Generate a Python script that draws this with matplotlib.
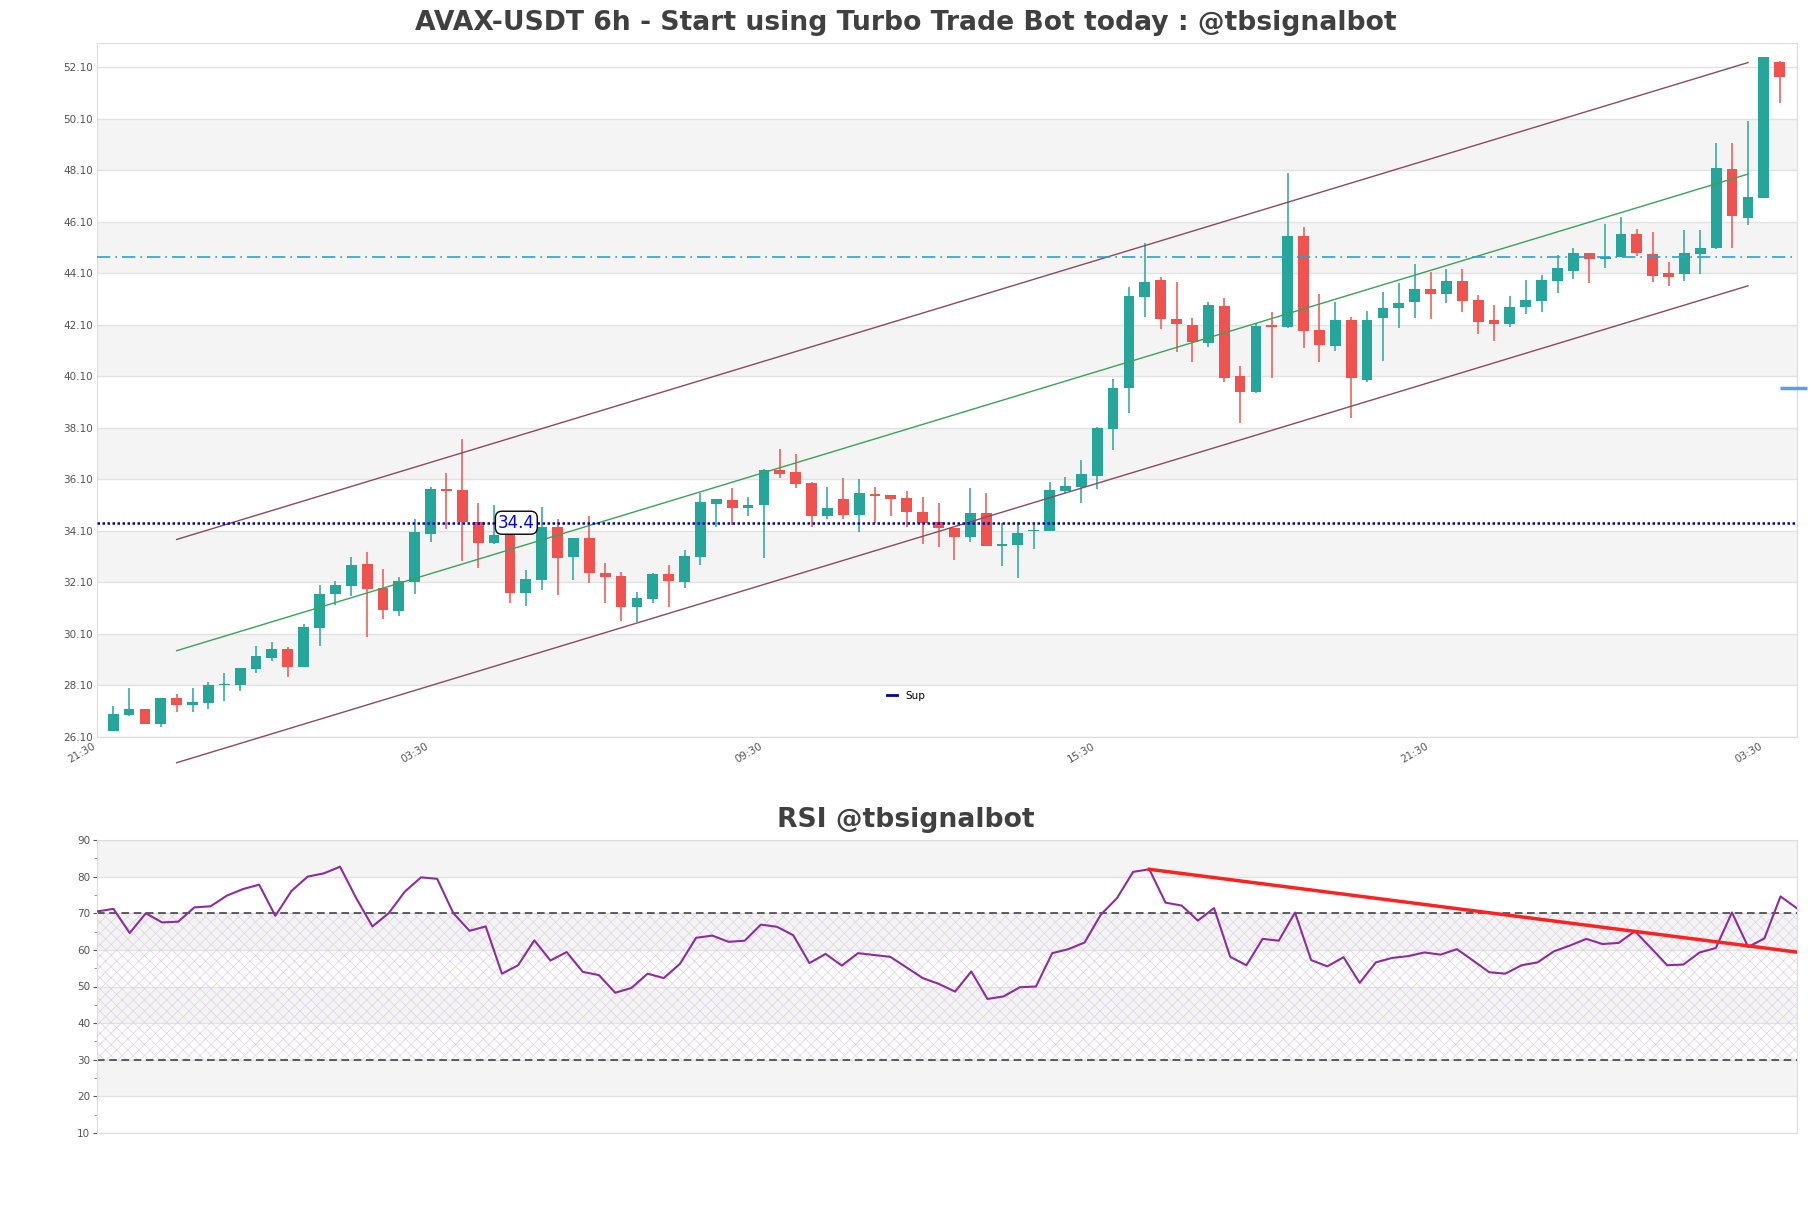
import matplotlib
matplotlib.use("Agg")
import matplotlib.pyplot as plt
from matplotlib.lines import Line2D
import numpy as np

# ---------------- data ----------------
opens = [26.33, 26.94, 27.18, 26.59, 27.59, 27.33, 27.42, 28.11, 28.11, 28.74,
         29.17, 29.51, 28.82, 30.33, 31.64, 31.97, 32.81, 31.89, 31.00, 32.12,
         33.98, 35.72, 35.68, 34.45, 33.64, 33.97, 31.67, 32.19, 34.26, 33.09,
         33.80, 32.44, 32.34, 31.15, 31.45, 32.42, 32.12, 33.09, 35.14, 35.29,
         34.99, 35.10, 36.46, 36.39, 35.97, 34.67, 35.33, 34.71, 35.53, 35.49,
         35.36, 34.84, 34.42, 34.19, 33.87, 34.78, 33.52, 33.54, 34.07, 34.07,
         35.64, 35.81, 36.23, 38.05, 39.66, 43.19, 43.84, 42.32, 42.09, 41.40,
         42.83, 40.11, 39.50, 42.09, 42.02, 45.55, 41.89, 41.27, 42.28, 39.95,
         42.35, 42.73, 42.99, 43.49, 43.28, 43.80, 43.06, 42.28, 42.13, 42.77,
         43.03, 43.81, 44.20, 44.87, 44.64, 44.72, 45.61, 44.85, 44.09, 44.07,
         44.85, 45.09, 48.13, 46.26, 47.03, 52.29]
highs = [27.29, 27.99, 27.18, 27.62, 27.76, 27.99, 28.22, 28.57, 28.77, 29.62,
         29.78, 29.57, 30.48, 31.99, 32.16, 33.09, 33.27, 32.61, 32.29, 34.54,
         35.81, 36.34, 37.66, 35.19, 35.10, 34.13, 32.57, 35.01, 34.54, 33.80,
         34.68, 32.83, 32.51, 31.73, 32.44, 32.77, 33.35, 35.55, 35.32, 35.75,
         35.40, 36.48, 37.27, 37.08, 36.00, 35.78, 36.13, 36.09, 35.81, 35.49,
         35.64, 35.40, 35.16, 34.19, 35.77, 35.55, 34.39, 34.45, 34.41, 35.98,
         36.17, 36.85, 38.14, 39.99, 43.55, 45.26, 43.97, 43.77, 42.37, 43.00,
         43.12, 40.50, 42.18, 42.61, 47.99, 45.88, 43.29, 43.00, 42.41, 42.63,
         43.38, 43.71, 44.44, 44.16, 44.25, 44.25, 43.25, 42.87, 43.21, 43.84,
         44.03, 44.81, 45.07, 44.87, 46.01, 46.27, 45.80, 45.69, 44.52, 45.78,
         45.78, 49.14, 49.14, 50.02, 52.51, 52.35]
lows = [26.33, 26.90, 26.59, 26.49, 27.07, 27.07, 27.16, 27.50, 27.89, 28.56,
        29.05, 28.43, 28.82, 29.64, 31.23, 31.56, 29.98, 30.67, 30.80, 31.64,
        33.67, 34.15, 32.94, 32.64, 33.58, 31.30, 31.19, 31.80, 31.60, 32.19,
        32.08, 31.31, 30.61, 30.57, 31.31, 31.12, 31.86, 32.77, 34.23, 34.32,
        34.68, 33.05, 36.16, 35.75, 34.26, 34.54, 34.55, 34.06, 34.41, 34.67,
        34.26, 33.58, 33.48, 32.96, 33.67, 33.52, 32.74, 32.28, 33.39, 34.07,
        35.55, 35.16, 35.71, 37.23, 38.68, 42.41, 41.93, 41.05, 40.67, 41.25,
        39.89, 38.27, 39.44, 40.02, 41.96, 41.18, 40.67, 41.09, 38.49, 39.86,
        40.70, 41.96, 42.35, 42.31, 42.96, 42.61, 41.74, 41.48, 42.02, 42.52,
        42.61, 43.34, 43.86, 43.71, 44.32, 44.72, 44.77, 43.77, 43.62, 43.81,
        44.07, 45.03, 45.09, 45.97, 47.03, 50.70]
closes = [26.98, 27.18, 26.59, 27.62, 27.33, 27.43, 28.11, 28.13, 28.77, 29.23,
          29.51, 28.82, 30.36, 31.64, 31.99, 32.77, 31.85, 31.02, 32.13, 34.05,
          35.72, 35.65, 34.45, 33.64, 33.93, 31.67, 32.22, 34.26, 33.05, 33.80,
          32.47, 32.32, 31.15, 31.47, 32.42, 32.16, 33.12, 35.21, 35.32, 34.99,
          35.09, 36.46, 36.30, 35.91, 34.67, 34.99, 34.71, 35.58, 35.45, 35.33,
          34.84, 34.41, 34.22, 33.87, 34.78, 33.52, 33.58, 34.00, 34.10, 35.68,
          35.84, 36.29, 38.10, 39.63, 43.22, 43.76, 42.31, 42.14, 41.44, 42.87,
          40.04, 39.50, 42.05, 42.00, 45.55, 41.87, 41.31, 42.28, 40.02, 42.28,
          42.76, 42.96, 43.49, 43.28, 43.80, 43.03, 42.22, 42.13, 42.80, 43.06,
          43.84, 44.29, 44.87, 44.64, 44.72, 45.61, 44.87, 44.00, 43.97, 44.87,
          45.07, 48.17, 46.33, 47.05, 52.51, 51.73]

rsi = [70.5, 71.2, 64.6, 70.0, 67.5, 67.7, 71.6, 71.9, 74.8, 76.6,
       77.8, 69.3, 76.1, 80.0, 80.9, 82.7, 74.1, 66.4, 70.0, 75.9,
       79.8, 79.4, 70.0, 65.2, 66.4, 53.5, 55.8, 62.6, 57.1, 59.4,
       54.0, 53.1, 48.3, 49.6, 53.5, 52.3, 56.2, 63.3, 63.9, 62.2,
       62.5, 66.9, 66.3, 64.0, 56.4, 58.9, 55.7, 59.1, 58.6, 58.1,
       55.2, 52.3, 50.7, 48.6, 54.1, 46.6, 47.3, 49.8, 50.0, 59.1,
       60.2, 62.0, 69.6, 74.1, 81.3, 82.0, 72.9, 72.1, 68.0, 71.4,
       58.1, 55.8, 63.0, 62.5, 70.2, 57.2, 55.5, 58.0, 51.0, 56.6,
       57.8, 58.3, 59.3, 58.7, 60.2, 57.1, 53.9, 53.5, 55.8, 56.6,
       59.6, 61.2, 63.0, 61.6, 61.9, 65.1, 60.5, 55.8, 56.0, 59.3,
       60.5, 70.2, 60.8, 63.1, 74.6, 71.4]

tick_pos = [-1, 20, 41, 62, 83, 104]
tick_labels = ["21:30", "03:30", "09:30", "15:30", "21:30", "03:30"]

# channel lines: (x0, x1), (y0, y1)
chan_x = [4, 103]
chan_upper = [33.76, 52.28]
chan_mid = [29.44, 47.95]
chan_lower = [25.09, 43.61]

sup_level = 34.41
sup_label = "34.4"
res_level = 44.72
last_marker = 39.65

rsi_trend_x = [65, 105]
rsi_trend_y = [82.0, 59.4]

# ---------------- figure ----------------
W, H = 1811, 1208
fig = plt.figure(figsize=(W / 100, H / 100), dpi=100)
plt.rcParams['font.family'] = ['DejaVu Sans']

GREEN = '#26a69a'
RED = '#ef5350'
TXT = '#555555'

ax = fig.add_axes([97.3 / W, 1 - 736.7 / H, (1796.7 - 97.3) / W, (736.7 - 43) / H])
ax.set_xlim(-1.0, 106.07)
ylo, yhi = 26.10, 53.04
ax.set_ylim(ylo, yhi)

yt = np.arange(26.10, 52.2, 2.0)
for k, v in enumerate(yt):
    if k % 2 == 1 and v + 2.0 <= yhi:
        ax.axhspan(v, v + 2.0, color='#f4f4f4', zorder=0, lw=0)
ax.set_yticks(yt)
ax.set_yticklabels(["%.2f" % v for v in yt])
ax.grid(axis='y', color='#e2e2e2', lw=1, zorder=0.5)
ax.set_axisbelow(True)

x = np.arange(len(opens))
cols = [GREEN if c >= o else RED for o, c in zip(opens, closes)]
ax.vlines(x, lows, highs, colors=cols, lw=1.1, zorder=2)
bottoms = [min(o, c) for o, c in zip(opens, closes)]
heights = [max(abs(c - o), 0.04) for o, c in zip(opens, closes)]
ax.bar(x, heights, bottom=bottoms, width=0.68, color=cols, zorder=3, lw=0)

ax.plot(chan_x, chan_upper, color='#8c4a5e', lw=1, zorder=4, clip_on=False)
ax.plot(chan_x, chan_lower, color='#8c4a5e', lw=1, zorder=4, clip_on=False)
ax.plot(chan_x, chan_mid, color='#3aa35a', lw=1, zorder=4)

ax.axhline(sup_level, color='#0000bb', lw=1.8, ls=(0, (1, 1)), zorder=5)
ax.axhline(res_level, color='#2aa3cc', lw=1.2, ls=(0, (8, 3, 1, 3)), zorder=5)
ax.plot([105, 106.7], [last_marker, last_marker], color='#5a9ee8', lw=2.5,
        clip_on=False, zorder=6, solid_capstyle='butt')

ax.text(25.4, sup_level, sup_label, ha='center', va='center', color='#0000ff',
        fontsize=12, zorder=7,
        bbox=dict(boxstyle='round,pad=0.15,rounding_size=0.4', fc='white', ec='black', lw=1))

ax.set_xticks(tick_pos)
ax.set_xticklabels(tick_labels, rotation=30, ha='right')
ax.tick_params(axis='both', length=0, labelsize=7.5, colors=TXT, pad=3)
for s in ax.spines.values():
    s.set_color('#dddddd')

leg = ax.legend(handles=[Line2D([0], [0], color='#0000aa', lw=2)], labels=['Sup'],
                loc='center', bbox_to_anchor=(0.476, 0.059), frameon=False,
                fontsize=7.5, handlelength=1.0, handletextpad=0.8)

fig.text(0.5, 1 - 23 / H, "AVAX-USDT 6h - Start using Turbo Trade Bot today : @tbsignalbot",
         ha='center', va='center', fontsize=19.2, fontweight='bold', color='#404040')

# ---------------- RSI ----------------
ax2 = fig.add_axes([97.3 / W, 1 - 1133 / H, (1796.7 - 97.3) / W, (1133 - 840) / H])
ax2.set_xlim(0, len(rsi) - 1)
ax2.set_ylim(10, 90)
for lo in [20, 40, 60, 80]:
    ax2.axhspan(lo, lo + 10, color='#f4f4f4', zorder=0, lw=0)
ax2.set_yticks(np.arange(10, 91, 10))
ax2.set_yticks(np.arange(15, 90, 10), minor=True)
ax2.grid(axis='y', which='major', color='#e2e2e2', lw=1, zorder=0.5)
ax2.set_axisbelow(True)
plt.rcParams['hatch.color'] = '#ddd2e6'
plt.rcParams['hatch.linewidth'] = 0.5
ax2.fill_between([0, len(rsi) - 1], 30, 70, facecolor='none', hatch='xxx',
                 edgecolor='#ddd2e6', lw=0, zorder=1)
ax2.axhline(70, color='#333333', lw=1.1, ls=(0, (5, 3)), zorder=2)
ax2.axhline(30, color='#333333', lw=1.1, ls=(0, (5, 3)), zorder=2)
ax2.plot(np.arange(len(rsi)), rsi, color='#8e2c9e', lw=1.5, zorder=3)
ax2.plot(rsi_trend_x, rsi_trend_y, color='#ff2020', lw=2.5, zorder=4)
ax2.set_xticks([])
ax2.tick_params(axis='y', which='major', length=3, labelsize=7.5, colors=TXT, pad=2)
ax2.tick_params(axis='y', which='minor', length=2, colors='#888888')
for s in ax2.spines.values():
    s.set_color('#dddddd')

fig.text(0.5, 1 - 820 / H, "RSI @tbsignalbot", ha='center', va='center',
         fontsize=19.2, fontweight='bold', color='#404040')

fig.savefig("out.png", dpi=100, facecolor='white')
